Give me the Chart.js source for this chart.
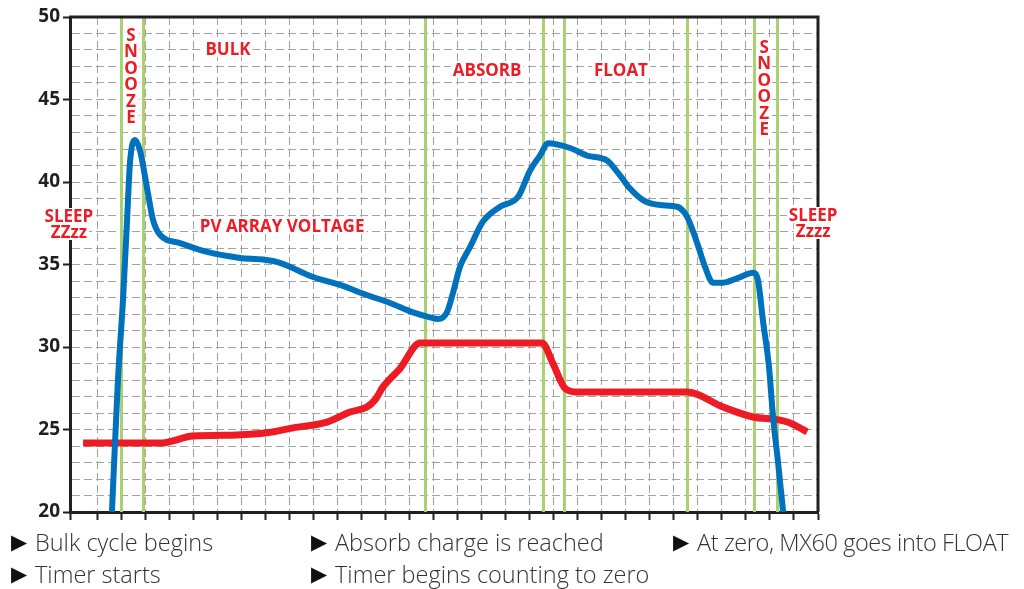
<!DOCTYPE html>
<html>
<head>
<meta charset="utf-8">
<title>MX60 charge cycle</title>
<script src="https://cdn.jsdelivr.net/npm/chart.js@4.4.1/dist/chart.umd.min.js"></script>
<style>
  html, body { margin: 0; padding: 0; background: #fff; }
  #wrap { position: relative; width: 1024px; height: 589px; overflow: hidden; }
  .nota {
    position: absolute;
    font-family: "Open Sans", sans-serif;
    font-weight: 300;
    font-size: 23.5px;
    color: #333;
    white-space: nowrap;
    line-height: 1;
  }
  .nota b {
    position: absolute;
    left: -24px;
    top: 1px;
    font-family: "DejaVu Sans", sans-serif;
    font-weight: normal;
    color: #111;
    font-size: 21px;
  }
</style>
</head>
<body>
<div id="wrap">
  <canvas id="ciclo" width="1024" height="589"></canvas>
  <div class="nota" style="left:35px; top:531px"><b>▶</b>Bulk cycle begins</div>
  <div class="nota" style="left:35px; top:563px"><b>▶</b>Timer starts</div>
  <div class="nota" style="left:335px; top:531px"><b>▶</b>Absorb charge is reached</div>
  <div class="nota" style="left:335px; top:563px"><b>▶</b>Timer begins counting to zero</div>
  <div class="nota" style="left:697px; top:531px; letter-spacing:-0.4px"><b>▶</b>At zero, MX60 goes into FLOAT</div>
</div>
<script>
// time axis is in grid cells, volts on the y axis
const pvTime = [1.62, 1.87, 2.08, 2.25, 2.37, 2.58, 2.79, 3.12, 3.33, 3.62, 4.45, 5.58, 6.95, 7.91,
  8.61, 9.99, 11.11, 12.23, 13.19, 14.15, 14.86, 15.19, 15.56, 15.81, 16.1, 16.52, 17.06, 17.77,
  18.52, 19.02, 19.43, 19.77, 20.68, 21.39, 22.22, 22.76, 23.18, 23.72, 24.43, 25.14, 25.55,
  25.97, 26.3, 26.63, 27.05, 27.76, 28.3, 28.5, 28.71, 28.96, 29.13, 29.34, 29.55];
const pvVolts = [20.0, 28.0, 32.85, 37.7, 41.15, 42.55, 41.9, 39.3, 37.7, 36.8, 36.3, 35.76, 35.4, 35.3,
  35.1, 34.24, 33.76, 33.15, 32.67, 32.1, 31.8, 31.7, 32.1, 33.27, 34.85, 36.06, 37.6, 38.5,
  39.1, 40.7, 41.6, 42.35, 42.06, 41.6, 41.3, 40.4, 39.6, 38.9, 38.6, 38.5, 37.9,
  36.3, 34.85, 33.9, 33.9, 34.24, 34.5, 34.06, 31.6, 28.8, 25.76, 22.97, 20.0];

const batteryTime = [0.42, 3.62, 4.99, 6.82, 8.07, 9.16, 10.57, 11.53, 12.23, 12.57, 12.9, 13.61, 14.44,
  19.52, 19.97, 20.47, 20.97, 25.55, 27.05, 28.3, 29.3, 29.84, 30.55];
const batteryVolts = [24.18, 24.18, 24.6, 24.67, 24.8, 25.1, 25.45, 26.06, 26.36, 26.8, 27.58, 28.7, 30.24,
  30.24, 29.0, 27.5, 27.27, 27.27, 26.36, 25.76, 25.6, 25.4, 24.85];

// stage boundaries (green lines)
const phaseLines = [2.0, 2.91, 14.65, 19.56, 20.43, 25.55, 28.34, 29.3];

const voltTicks = [20, 25, 30, 35, 40, 45, 50];

// stage names: text, time, volts
const stageLabels = [
  ["BULK", 6.45, 48.06],
  ["ABSORB", 17.23, 46.79],
  ["FLOAT", 22.8, 46.79],
  ["PV ARRAY VOLTAGE", 8.7, 37.33],
  ["SLEEP", -0.17, 37.94],
  ["ZZzz", -0.17, 36.97],
  ["SLEEP", 30.8, 38.0],
  ["Zzzz", 30.8, 37.03]
];
const snoozeLabels = [[2.41, 48.9], [28.76, 48.18]];

const toPoints = (xs, ys) => xs.map((x, i) => ({ x: x, y: ys[i] }));

const RED = "#ed1c24";
const labelFont = "bold 17px 'Open Sans', sans-serif";

const etapas = {
  id: "etapas",
  beforeDatasetsDraw(chart) {
    const { ctx, chartArea: a, scales: { x, y } } = chart;
    ctx.save();

    // green stage lines
    ctx.strokeStyle = "#a9d16f";
    ctx.lineWidth = 3;
    phaseLines.forEach(t => {
      const px = Math.round(x.getPixelForValue(t)) + 0.5;
      ctx.beginPath();
      ctx.moveTo(px, a.top);
      ctx.lineTo(px, a.bottom);
      ctx.stroke();
    });

    // top and right frame
    ctx.strokeStyle = "#231f20";
    ctx.lineWidth = 3;
    ctx.beginPath();
    ctx.moveTo(a.left - 1, a.top);
    ctx.lineTo(a.right, a.top);
    ctx.lineTo(a.right, a.bottom);
    ctx.stroke();

    // stage names on white boxes
    ctx.font = labelFont;
    ctx.textAlign = "center";
    ctx.textBaseline = "middle";
    stageLabels.forEach(([txt, t, v]) => {
      const px = x.getPixelForValue(t), py = y.getPixelForValue(v);
      const w = ctx.measureText(txt).width;
      ctx.fillStyle = "#fff";
      ctx.fillRect(px - w / 2 - 2, py - 8, w + 4, 16);
      ctx.fillStyle = RED;
      ctx.fillText(txt, px, py + 1);
    });

    // vertical SNOOZE
    snoozeLabels.forEach(([t, v]) => {
      const px = x.getPixelForValue(t);
      const step = y.getPixelForValue(v - 1) - y.getPixelForValue(v);
      const top = y.getPixelForValue(v);
      ctx.fillStyle = "#fff";
      ctx.fillRect(px - 8, top - 9, 16, step * 6 + 2);
      ctx.fillStyle = RED;
      "SNOOZE".split("").forEach((ch, i) => ctx.fillText(ch, px, top + i * step + 1));
    });
    ctx.restore();
  }
};

new Chart(document.getElementById("ciclo"), {
  type: "line",
  data: {
    datasets: [
      {
        label: "PV array voltage",
        data: toPoints(pvTime, pvVolts),
        borderColor: "#0071bc",
        borderWidth: 6,
        pointRadius: 0,
        cubicInterpolationMode: "monotone",
        borderCapStyle: "butt"
      },
      {
        label: "Battery voltage",
        data: toPoints(batteryTime, batteryVolts),
        borderColor: RED,
        borderWidth: 7,
        pointRadius: 0,
        cubicInterpolationMode: "monotone",
        borderCapStyle: "butt"
      }
    ]
  },
  options: {
    responsive: false,
    animation: false,
    layout: { padding: { left: 0, top: 17, right: 206, bottom: 77 } },
    plugins: { legend: { display: false }, tooltip: { enabled: false } },
    scales: {
      x: {
        type: "linear",
        min: -0.125,
        max: 31,
        afterFit: s => { s.height = 0; },
        ticks: { display: false, stepSize: 1, autoSkip: false },
        grid: {
          color: c => (c.tick && c.tick.value >= 0 && c.tick.value < 30.5) ? "#a3a3a3" : "transparent",
          lineWidth: 1,
          drawTicks: true,
          tickLength: 8,
          tickColor: "#231f20",
          tickWidth: 2
        },
        border: { display: true, color: "#231f20", width: 3, dash: [8, 4] }
      },
      y: {
        min: 20,
        max: 50,
        afterFit: s => { s.width = 70; },
        ticks: {
          stepSize: 1,
          autoSkip: false,
          padding: 3,
          color: "#231f20",
          font: { family: "'Open Sans', sans-serif", size: 19, weight: "bold" },
          callback: v => voltTicks.includes(v) ? String(v) : ""
        },
        grid: {
          color: c => (c.tick && c.tick.value > 20 && c.tick.value < 50) ? "#a3a3a3" : "transparent",
          lineWidth: 1,
          drawTicks: true,
          tickLength: 7,
          tickColor: c => (c.tick && voltTicks.includes(c.tick.value)) ? "#231f20" : "transparent",
          tickWidth: 2
        },
        border: { display: true, color: "#231f20", width: 3, dash: [8, 4] }
      }
    }
  },
  plugins: [etapas]
});
</script>
</body>
</html>
